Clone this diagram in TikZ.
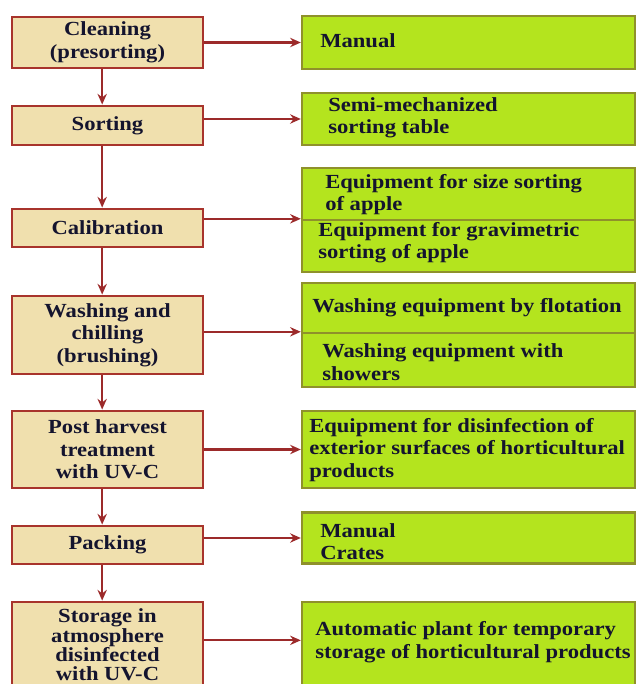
\documentclass[tikz,border=0pt]{standalone}
\usepackage{fontspec}
\setmainfont[FakeStretch=1.13]{Liberation Serif}
\usetikzlibrary{arrows.meta}
\definecolor{lfill}{HTML}{F0E0AE}
\definecolor{lborder}{HTML}{A8342C}
\definecolor{rfill}{HTML}{B4E41E}
\definecolor{rborder}{HTML}{8F912B}
\definecolor{arrowc}{HTML}{9C2A2A}
\definecolor{txt}{HTML}{14142E}
\begin{document}
\begin{tikzpicture}[x=0.75pt,y=-0.75pt,
  every node/.style={font=\fontsize{15}{16.9}\selectfont\bfseries, text=txt},
  lbox/.style={draw=lborder, fill=lfill, line width=2.2pt, minimum width=143.25pt, inner sep=0pt, align=center},
  rbox/.style={draw=rborder, fill=rfill, line width=1.8pt, minimum width=249.75pt, inner sep=0pt},
  rtext/.style={anchor=west, align=left, inner sep=0pt},
  flow/.style={draw=arrowc, line width=1.6pt, -{Stealth[length=8pt,width=7pt]}}]
\useasboundingbox (0,0) rectangle (637,684);
\begin{scope}
\clip (0,0) rectangle (637,684);
% left boxes
\node[lbox, minimum height=38.25pt] (clean) at (107.5,42.5) {Cleaning\\(presorting)};
\node[lbox, minimum height=29.25pt] (sort) at (107.5,125.5) {Sorting};
\node[lbox, minimum height=28.5pt] (calib) at (107.5,228) {Calibration};
\node[lbox, minimum height=58.5pt] (wash) at (107.5,335) {Washing and\\chilling\\(brushing)};
\node[lbox, minimum height=57.75pt] (post) at (107.5,449.5) {Post harvest\\treatment\\with UV-C};
\node[lbox, minimum height=28.5pt] (pack) at (107.5,545) {Packing};
\node[lbox, minimum height=64.5pt, font=\fontsize{15}{14.6}\selectfont\bfseries] (store) at (107.5,645) {Storage in\\atmosphere\\disinfected\\with UV-C};
% right boxes
\node[rbox, minimum height=39.75pt] (manual) at (468.5,42.5) {};
\node[rbox, minimum height=39pt] (semi) at (468.5,119) {};
\node[rbox, minimum height=39pt] (calA) at (468.5,194) {};
\node[rbox, minimum height=39pt] (calB) at (468.5,246) {};
\node[rbox, minimum height=37.5pt] (washA) at (468.5,308) {};
\node[rbox, minimum height=40.5pt] (washB) at (468.5,360) {};
\node[rbox, minimum height=57.75pt] (postR) at (468.5,449.5) {};
\node[rbox, minimum height=38.25pt] (packR) at (468.5,538) {};
\node[rbox, minimum height=64.5pt] (storeR) at (468.5,645) {};
% right texts
\node[rtext] (tmanual) at (320,41) {Manual};
\node[rtext] (tsemi) at (328,118) {Semi-mechanized\\sorting table};
\node[rtext] (tcalA) at (325,194.5) {Equipment for size sorting\\of apple};
\node[rtext] (tcalB) at (318,242.5) {Equipment for gravimetric\\sorting of apple};
\node[rtext] (twashA) at (312,308) {Washing equipment by flotation};
\node[rtext] (twashB) at (322,362) {Washing equipment with\\showers};
\node[rtext] (tpost) at (309,450) {Equipment for disinfection of\\exterior surfaces of horticultural\\products};
\node[rtext] (tpack) at (320,541.5) {Manual\\Crates};
\node[rtext] (tstore) at (315,642) {Automatic plant for temporary\\storage of horticultural products};
% vertical flow
\draw[flow] ([xshift=-4pt]clean.south) -- ([xshift=-4pt]sort.north);
\draw[flow] ([xshift=-4pt]sort.south) -- ([xshift=-4pt]calib.north);
\draw[flow] ([xshift=-4pt]calib.south) -- ([xshift=-4pt]wash.north);
\draw[flow] ([xshift=-4pt]wash.south) -- ([xshift=-4pt]post.north);
\draw[flow] ([xshift=-4pt]post.south) -- ([xshift=-4pt]pack.north);
\draw[flow] ([xshift=-4pt]pack.south) -- ([xshift=-4pt]store.north);
% horizontal flow
\draw[flow] (clean.east |- manual.west) -- (manual.west);
\draw[flow] (sort.east |- semi.west) -- (semi.west);
\draw[flow] (calib.east |- calB.north west) -- (calB.north west);
\draw[flow] (wash.east |- washB.north west) -- (washB.north west);
\draw[flow] (post.east |- postR.west) -- (postR.west);
\draw[flow] (pack.east |- packR.west) -- (packR.west);
\draw[flow] ([yshift=3.5pt]store.east) -- ([yshift=3.5pt]store.east -| storeR.west);
\end{scope}
\end{tikzpicture}
\end{document}
